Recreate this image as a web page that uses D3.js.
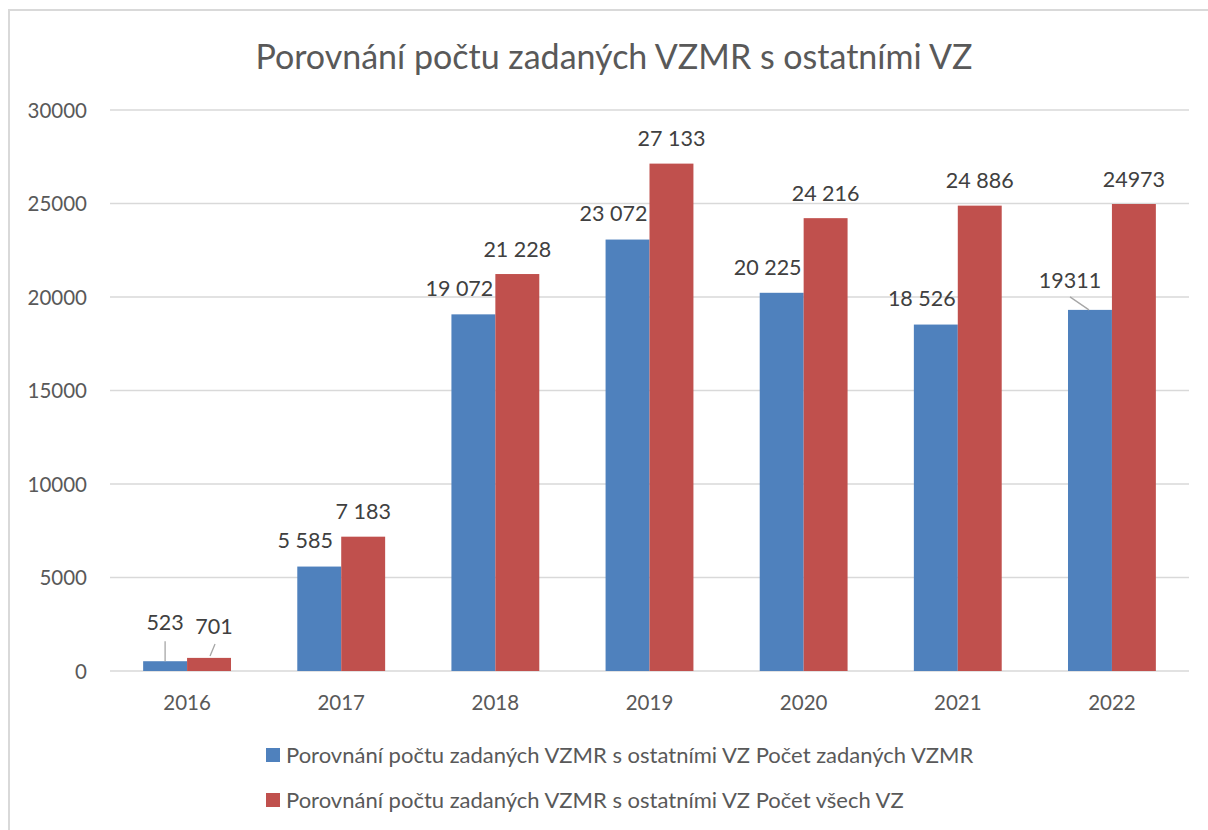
<!DOCTYPE html>
<html>
<head>
<meta charset="utf-8">
<script src="https://cdn.jsdelivr.net/npm/d3@7"></script>
<style>
  body { margin: 0; background: #fff; }
  svg text { font-family: Lato, "Open Sans", sans-serif; fill: #595959; }
</style>
</head>
<body>
<div id="chart"></div>
<script>
var years = ["2016", "2017", "2018", "2019", "2020", "2021", "2022"];
var vzmr = [523, 5585, 19072, 23072, 20225, 18526, 19311];
var vsechVz = [701, 7183, 21228, 27133, 24216, 24886, 24973];
// labels as they are printed in the chart (2022 without the thin space)
var vzmrLabels = ["523", "5 585", "19 072", "23 072", "20 225", "18 526", "19311"];
var vsechLabels = ["701", "7 183", "21 228", "27 133", "24 216", "24 886", "24973"];
var yTicks = [0, 5000, 10000, 15000, 20000, 25000, 30000];
var seriesNames = [
  "Porovnání počtu zadaných VZMR s ostatními VZ Počet zadaných VZMR",
  "Porovnání počtu zadaných VZMR s ostatními VZ Počet všech VZ"
];
var colors = ["#4F81BD", "#C0504D"];

var width = 1208, height = 830;
var margin = {left: 110, right: 19, top: 110, bottom: 159};

var svg = d3.select("#chart").append("svg")
  .attr("width", width)
  .attr("height", height);

// chart frame (runs past the right / bottom edge like in the screenshot)
svg.append("rect")
  .attr("x", 9).attr("y", 10)
  .attr("width", 1230).attr("height", 840)
  .attr("fill", "none")
  .attr("stroke", "#d9d9d9")
  .attr("stroke-width", 2);

svg.append("text")
  .attr("x", 614).attr("y", 69)
  .attr("text-anchor", "middle")
  .style("font-size", "34px")
  .text("Porovnání počtu zadaných VZMR s ostatními VZ");

var x = d3.scaleBand()
  .domain(years)
  .range([margin.left, width - margin.right])
  .paddingInner(0.43)
  .paddingOuter(0.215);

var xSub = d3.scaleBand()
  .domain([0, 1])
  .range([0, x.bandwidth()]);

var y = d3.scaleLinear()
  .domain([0, 30000])
  .range([height - margin.bottom, margin.top]);

// gridlines
svg.append("g")
  .selectAll("line")
  .data(yTicks)
  .enter().append("line")
  .attr("x1", margin.left)
  .attr("x2", width - margin.right)
  .attr("y1", function(d){ return y(d); })
  .attr("y2", function(d){ return y(d); })
  .attr("stroke", "#d9d9d9")
  .attr("stroke-width", 1.3);

// y axis labels
var yAxis = d3.axisLeft(y).tickValues(yTicks).tickSize(0).tickPadding(0)
  .tickFormat(d3.format("d"));
var gy = svg.append("g")
  .attr("transform", "translate(" + 87 + ",0)")
  .call(yAxis);
gy.select(".domain").remove();
gy.selectAll("text").style("font-size", "20.5px").attr("fill", "#595959")
  .attr("dy", "0.36em");

// x axis labels
var xAxis = d3.axisBottom(x).tickSize(0).tickPadding(0);
var gx = svg.append("g")
  .attr("transform", "translate(0," + (y(0) + 39) + ")")
  .call(xAxis);
gx.select(".domain").remove();
gx.selectAll("text").style("font-size", "20.5px").attr("fill", "#595959")
  .attr("dy", 0);

var rows = years.map(function(yr, i) {
  return {year: yr, values: [vzmr[i], vsechVz[i]], labels: [vzmrLabels[i], vsechLabels[i]]};
});

var groups = svg.append("g").selectAll("g")
  .data(rows)
  .enter().append("g")
  .attr("transform", function(d){ return "translate(" + x(d.year) + ",0)"; });

groups.selectAll("rect")
  .data(function(d){ return d.values; })
  .enter().append("rect")
  .attr("x", function(d, i){ return xSub(i); })
  .attr("width", xSub.bandwidth())
  .attr("y", function(d){ return y(d); })
  .attr("height", function(d){ return y(0) - y(d); })
  .attr("fill", function(d, i){ return colors[i]; });

// data labels
var lbl = svg.append("g");
rows.forEach(function(r, j) {
  r.values.forEach(function(v, i) {
    var cx = x(r.year) + xSub(i) + xSub.bandwidth() / 2;
    var top = y(v);
    var lx, ly, leader = null;
    if (r.year === "2016") {
      lx = i === 0 ? cx : cx + 5;
      ly = i === 0 ? top - 39 : top - 32;
      leader = i === 0 ? [[cx, top - 20], [cx, top]] : [[cx + 6, top - 14], [cx + 1, top - 2]];
    } else if (r.year === "2022" && i === 0) {
      lx = cx - 20; ly = top - 30;
      leader = [[cx - 20, top - 13], [cx - 1, top]];
    } else if (i === 0) {
      lx = cx - 14; ly = top - 26;
    } else {
      lx = cx; ly = top - 25;
    }
    if (leader) {
      lbl.append("line")
        .attr("x1", leader[0][0]).attr("y1", leader[0][1])
        .attr("x2", leader[1][0]).attr("y2", leader[1][1])
        .attr("stroke", "#a6a6a6").attr("stroke-width", 1.3);
    }
    lbl.append("text")
      .attr("x", lx).attr("y", ly)
      .attr("dy", "0.36em")
      .attr("text-anchor", "middle")
      .style("font-size", "21.5px")
      .style("fill", "#404040")
      .text(r.labels[i]);
  });
});

// legend
var legend = svg.append("g").selectAll("g")
  .data(seriesNames)
  .enter().append("g")
  .attr("transform", function(d, i){ return "translate(266," + (755 + i * 45) + ")"; });
legend.append("rect")
  .attr("x", 0).attr("y", -7)
  .attr("width", 14).attr("height", 14)
  .attr("fill", function(d, i){ return colors[i]; });
legend.append("text")
  .attr("x", 20).attr("y", 8)
  .style("font-size", "22px")
  .text(function(d){ return d; });
</script>
</body>
</html>
